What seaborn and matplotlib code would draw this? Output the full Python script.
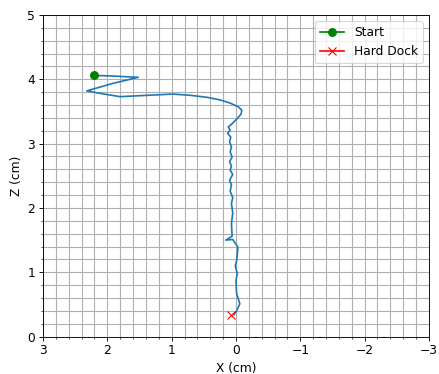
import numpy as np
import matplotlib
matplotlib.use("Agg")
import matplotlib.pyplot as plt
import seaborn as sns
from matplotlib.ticker import MultipleLocator

# Trajectory (cm)
path_x = [2.20, 1.90, 1.52, 1.90, 2.32, 2.05, 1.80, 1.40, 0.98, 0.70, 0.45, 0.25, 0.09,
          -0.04, -0.09, -0.08, -0.02, 0.07, 0.12, 0.09, 0.13, 0.08, 0.10, 0.07, 0.09,
          0.06, 0.10, 0.07, 0.09, 0.05, 0.10, 0.07, 0.09, 0.05, 0.07, 0.05, 0.07,
          0.06, 0.16, 0.05, -0.03, -0.02, -0.01, 0.01, -0.02, 0.0, -0.01, -0.06, -0.01, 0.03]
path_z = [4.06, 4.05, 4.03, 3.94, 3.82, 3.77, 3.73, 3.75, 3.77, 3.75, 3.72, 3.68, 3.63,
          3.57, 3.52, 3.46, 3.39, 3.30, 3.26, 3.21, 3.16, 3.10, 3.03, 2.95, 2.87,
          2.79, 2.72, 2.65, 2.59, 2.52, 2.43, 2.36, 2.26, 2.16, 2.07, 1.92, 1.76,
          1.56, 1.50, 1.51, 1.39, 1.26, 1.18, 1.10, 0.98, 0.87, 0.67, 0.51, 0.40, 0.34]

start = (2.20, 4.07)
hard_dock = (0.07, 0.33)

plt.rcParams['font.size'] = 11

DPI = 80
fig, ax = plt.subplots(figsize=(439 / DPI, 374 / DPI), dpi=DPI)

sns.lineplot(x=path_x, y=path_z, sort=False, estimator=None, color='#1f77b4',
             linewidth=1.5, ax=ax)
ax.plot([start[0]], [start[1]], 'g-o', markersize=7, label='Start')
ax.plot([hard_dock[0]], [hard_dock[1]], 'r-x', markersize=7, label='Hard Dock')

ax.set_xlim(3, -3)
ax.set_ylim(0, 5)
ax.xaxis.set_major_locator(MultipleLocator(1))
ax.yaxis.set_major_locator(MultipleLocator(1))
ax.xaxis.set_minor_locator(MultipleLocator(0.2))
ax.yaxis.set_minor_locator(MultipleLocator(0.2))
ax.grid(which='both', color='#b0b0b0', linewidth=1.0)
ax.set_axisbelow(True)
ax.set_xlabel('X (cm)')
ax.set_ylabel('Z (cm)')
ax.legend(loc='upper right')

fig.subplots_adjust(left=0.098, right=0.977, top=0.96, bottom=0.10)
fig.savefig('out.png', dpi=DPI)
